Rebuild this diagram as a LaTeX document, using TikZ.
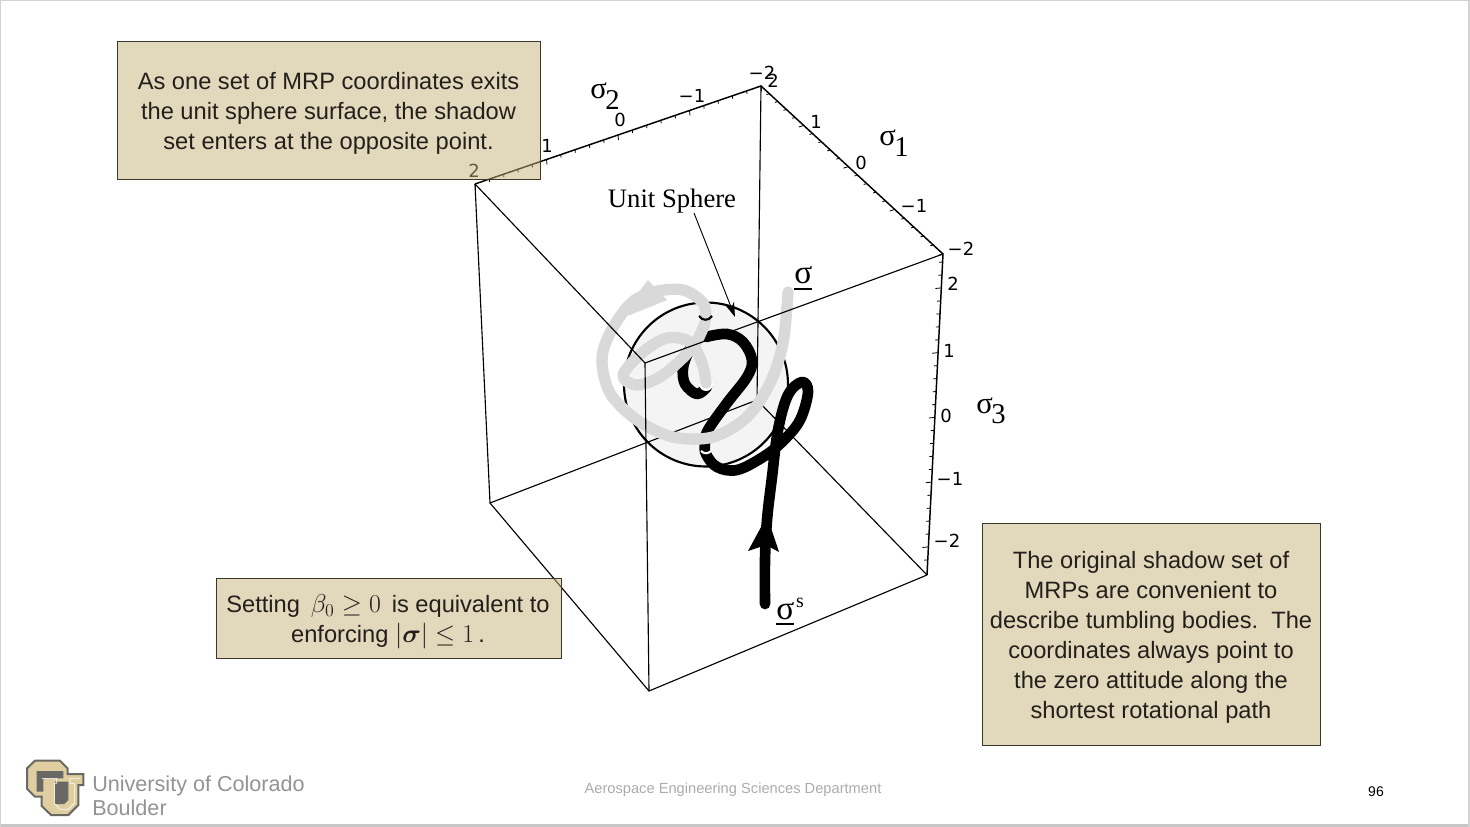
\documentclass[tikz,border=0pt]{standalone}
\usepackage{amsmath}
\usepackage[no-math]{fontspec}
\setmainfont{Liberation Sans}
\newfontfamily\serifsym{Liberation Serif}
\newfontfamily\ticksym{DejaVu Sans}
\usetikzlibrary{calc,arrows.meta}
\definecolor{boxtan}{RGB}{199,179,123}
\definecolor{boxline}{RGB}{60,55,40}
\definecolor{boxtext}{RGB}{35,32,28}
\definecolor{trail}{RGB}{217,217,217}
\definecolor{sphere}{RGB}{244,244,244}
\definecolor{logotan}{RGB}{222,206,160}
\definecolor{logogray}{RGB}{105,104,100}
\newcommand{\axsub}[1]{\kern-1pt\raisebox{-8pt}{\fontsize{21.5}{23}\selectfont #1}}
\tikzset{
  notebox/.style={draw=boxline,line width=0.7pt,fill=boxtan,fill opacity=.5,draw opacity=1,inner sep=0pt},
  notetext/.style={inner sep=0pt,align=center,text=boxtext,font=\fontsize{17.75}{22.5}\selectfont},
  ticklab/.style={font=\ticksym\fontsize{13.5}{15}\selectfont,inner sep=0pt},
  axlab/.style={font=\serifsym\fontsize{23}{25}\selectfont,inner sep=0pt},
  edge/.style={line width=0.85pt,black},
  axisedge/.style={line width=1.1pt,black},
  tickmark/.style={line width=0.6pt,black},
  blackpath/.style={line width=8pt,line cap=round,line join=round,black},
  graypath/.style={line width=8.5pt,line cap=round,line join=round,trail},
}
\begin{document}
\begin{tikzpicture}[x=0.75pt,y=-0.75pt]
\useasboundingbox (0,0) rectangle (1470,827);
\fill[white] (0,0) rectangle (1470,827);
% slide edges
\fill[gray!45] (0,824) rectangle (1470,827);
\fill[gray!35] (1467.5,0) rectangle (1470,827);
\fill[gray!35] (0,0) rectangle (1,827);
\fill[gray!35] (0,0) rectangle (1470,1);
% cube corners
\coordinate (A) at (475,184);
\coordinate (B) at (761,86);
\coordinate (C) at (943,254);
\coordinate (D) at (645,363);
\coordinate (E) at (490,503);
\coordinate (F) at (649,691);
\coordinate (G) at (927,575);
\coordinate (H) at (757,400);
% sphere
\node[circle,draw=black,line width=1.6pt,fill=sphere,minimum size=123pt,inner sep=0pt] (ball) at (706,384.5) {};
% hidden edges
\draw[edge] (E) -- (H);
\draw[edge] ($(H)!0.03!(G)$) -- (G);
\draw[edge] (B) -- (H);
% black trajectory
\draw[blackpath] plot[smooth,tension=.6] coordinates {(765,604)(765,560)(767,520)(772,477)(778,430)(788,395)(802,382)(808,392)(800,420)(783,441)(763,457)(737,470)(717,467)(706,454)(705,443)(708,430)(727,403)(747,377)(752,360)(743,342)(727,334)(706,337)};
\draw[blackpath] plot[smooth,tension=.6] coordinates {(707,387)(697,394)(685,384)(683,368)(688,353)(694,342)};
\fill[black] (767,516) -- (779,552) -- (766,545) -- (748,551) -- cycle;
\draw[white,line width=1.6pt] (701,451) .. controls (704,454) and (708,454) .. (711,451);
\fill[white] (706,384) circle[radius=7];
% gray trajectory
\draw[graypath] plot[smooth,tension=.55] coordinates {(788,292)(783,343)(770,383)(747,417)(713,437)(673,437)(637,420)(610,393)(602,360)(610,333)(630,304)(653,292)(683,290)(703,303)(706,319)};
\draw[graypath] plot[smooth,tension=.55] coordinates {(705,323)(693,347)(663,375)(637,385)(623,375)(643,352)(667,338)(690,342)(702,363)(706,383)};
\fill[trail] (648,280) -- (667,300) -- (630,315) -- (622,314) -- cycle;
\draw[black,line width=1.6pt] (699,316) .. controls (702,321) and (709,321) .. (712,316);
% front edges
\draw[edge] (A) -- (D) -- (F);
\draw[edge] (D) -- (C);
\draw[edge] (A) -- (E) -- (F) -- (G);
\draw[axisedge] (A) -- (B) -- (C) -- (G);
% ticks
\foreach \i in {0,...,20}{
  \pgfmathsetmacro\t{\i/20}
  \pgfmathsetmacro\len{mod(\i,5)==0?5:3}
  \draw[tickmark] ($(A)!\t!(B)$) -- ++(0.1*\len,\len);
  \pgfmathsetmacro\s{\t*(.92+.08*\t)}
  \draw[tickmark] ($(B)!\s!(C)$) -- ++(-\len,0.3*\len);
}
\foreach \i in {0,...,23}{
  \pgfmathsetmacro\t{(262+\i*12.95-254)/321}
  \pgfmathsetmacro\len{mod(\i+3,5)==0?6:3.5}
  \draw[tickmark] ($(C)!\t!(G)$) -- ++(-\len,0.1*\len);
}
% unit sphere label and leader
\node[font=\serifsym\fontsize{20}{22}\selectfont,inner sep=0pt] (unit) at (672,201) {Unit Sphere};
\coordinate (unitend) at (735,317);
\draw[line width=0.7pt,-{Stealth[length=11pt,width=7pt]}] (694,213) -- (unitend);
% tick labels
\node[ticklab] (a1) at (547,146) {1};
\node[ticklab] (a2) at (620,120) {0};
\node[ticklab] (a3) at (692,96) {−1};
\node[ticklab] (a4) at (762,73) {−2};
\node[ticklab] (b0) at (773,81) {2};
\node[ticklab] (b1) at (816,122) {1};
\node[ticklab] (b2) at (861,163) {0};
\node[ticklab] (b3) at (914,206) {−1};
\node[ticklab] (b4) at (961,249) {−2};
\node[ticklab] (c1) at (953,284) {2};
\node[ticklab] (c2) at (949,351) {1};
\node[ticklab] (c3) at (946,416) {0};
\node[ticklab] (c4) at (950,479) {−1};
\node[ticklab] (c5) at (947,541) {−2};
\node[ticklab] (a0) at (474,171) {2};
% axis names
\node[axlab,anchor=base west] (s2) at (590,99) {σ\axsub{2}};
\node[axlab,anchor=base west] (s1) at (879,146) {σ\axsub{1}};
\node[axlab,anchor=base west] (s3) at (976,413) {σ\axsub{3}};
\node[font=\serifsym\fontsize{25}{27}\selectfont,inner sep=0pt,anchor=base west] (sig) at (794,284) {\underline{σ}};
\node[font=\serifsym\fontsize{25}{27}\selectfont,inner sep=0pt,anchor=base west] (sigs) at (776,619) {\underline{σ}\kern1.5pt\raisebox{9pt}{\fontsize{15}{15}\selectfont s}};
% text boxes
\node[notebox,minimum width=317.25pt,minimum height=103.5pt] (box1) at (328.5,110) {};
\node[notetext] (box1t) at (328.5,113) {As one set of MRP coordinates exits\\the unit sphere surface, the shadow\\set enters at the opposite point.};
\node[notebox,minimum width=258.75pt,minimum height=60pt] (box3) at (388.5,618) {};
\node[notetext] (box3t) at (388,621.5) {Setting \scalebox{1.12}{$\,\beta_0\geq 0\,$} is equivalent to\\enforcing \scalebox{1.12}{$|\boldsymbol{\sigma}|\leq 1$}\,.};
\node[notebox,minimum width=253.5pt,minimum height=166.5pt] (box2) at (1151,634) {};
\node[notetext] (box2t) at (1151,637) {The original shadow set of\\MRPs are convenient to\\describe tumbling bodies.\ \ The\\coordinates always point to\\the zero attitude along the\\shortest rotational path};
% logo
\begin{scope}[shift={(15,750)},x=0.25pt,y=-0.25pt]
\fill[logotan,draw=logogray,line width=1.5pt] (60,32)--(135,32)--(158,55)--(158,72)--(205,72)--(205,105)--(190,105)--(190,165)--(160,195)--(108,195)--(80,168)--(80,140)--(60,140)--(36,116)--(36,55)--cycle;
\fill[logogray] (65,63)--(145,63)--(145,85)--(85,85)--(85,125)--(65,125)--cycle;
\fill[logogray] (120,95)--(160,95)--(160,150)--(148,162)--(120,162)--cycle;
\draw[white,line width=0.5pt] (80,85)--(125,85)--(125,100)--(118,100)--(118,160)--(135,178)--(160,178)--(178,160)--(178,100)--(165,100)--(165,85)--(196,85);
\end{scope}
% footer
\node[anchor=base west,inner sep=0pt,text=gray!85,font=\fontsize{16.2}{20}\selectfont] (cu1) at (92,791) {University of Colorado};
\node[anchor=base west,inner sep=0pt,text=gray!85,font=\fontsize{16.2}{20}\selectfont] (cu2) at (92,815) {Boulder};
\node[inner sep=0pt,text=gray!65,font=\fontsize{11}{13}\selectfont] (dept) at (733,790) {Aerospace Engineering Sciences Department};
\node[inner sep=0pt,text=black,font=\fontsize{10.5}{12}\selectfont] (page) at (1376,792) {96};
\end{tikzpicture}
\end{document}
